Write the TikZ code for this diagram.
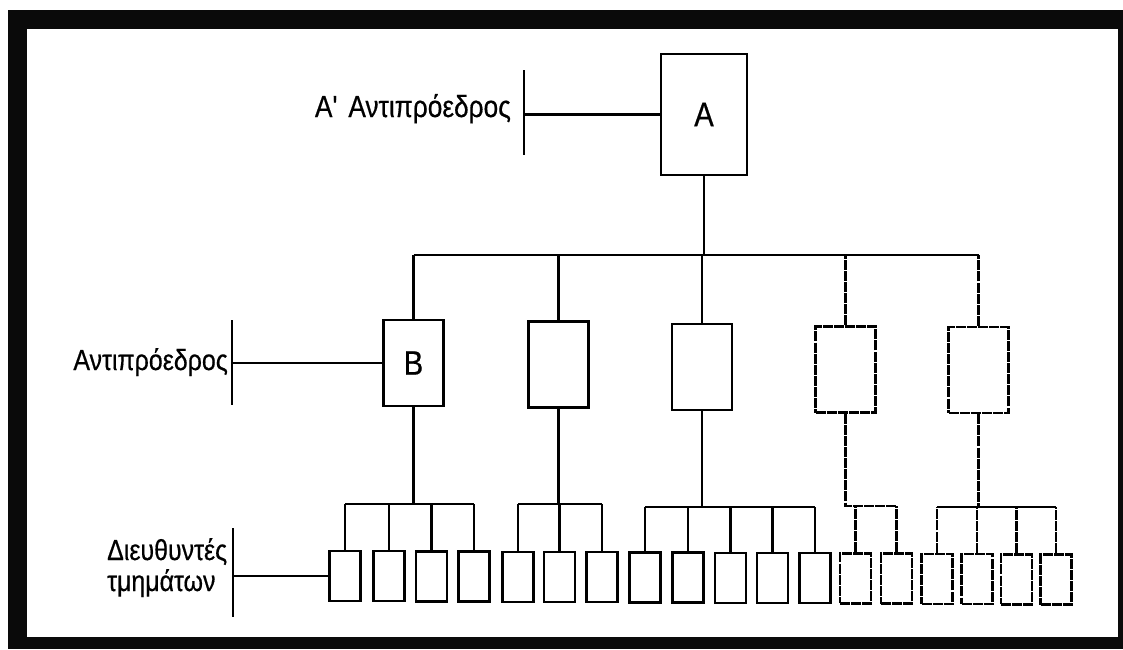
\documentclass[tikz,border=0pt]{standalone}
\usepackage{fontspec}
\setmainfont{Liberation Sans}
\newfontfamily\narrowsans[FakeStretch=0.86,FakeBold=0.5]{Liberation Sans}
\begin{document}
\begin{tikzpicture}[x=1pt,y=-1pt,
  ln/.style={line width=2.4pt},
  soft/.style={dash pattern=on 10pt off 1.1pt},
  topbox/.style={draw,line width=2.4pt,minimum width=86pt,minimum height=121pt,inner sep=0pt,font=\narrowsans\fontsize{34}{40}\selectfont},
  vpbox/.style={draw,line width=2.4pt,minimum width=60pt,minimum height=86pt,inner sep=0pt,font=\narrowsans\fontsize{34}{40}\selectfont},
  dbox/.style={draw,line width=2.4pt,minimum width=31pt,minimum height=50pt,inner sep=0pt},
  lbl/.style={font=\narrowsans\fontsize{29}{34}\selectfont,inner sep=0pt}]
% page and black frame
\useasboundingbox (0,0) rectangle (1123,649);
\fill[white] (0,0) rectangle (1123,649);
\fill[black!96] (8,10) rectangle (1123,649);
\fill[white] (27,29) rectangle (1118,637);

% president
\node[topbox] (A) at (704,114.5) {A};
\node[lbl,anchor=base east,font=\narrowsans\fontsize{30.5}{36}\selectfont] (labA) at (511,117) {A'\hspace{0.12em} Αντιπρόεδρος};
\coordinate (tickA1) at (524,70);
\coordinate (tickA2) at (524,155);
\draw[ln] (tickA1) -- (tickA2);
\draw[ln] (A.west) -- (A.west -| tickA1);

% vice presidents
\node[vpbox] (B1) at (413.5,363) {B};
\node[vpbox] (B2) at (558.5,364.5) {};
\node[vpbox] (B3) at (702,367) {};
\node[vpbox,soft] (B4) at (845.5,369.5) {};
\node[vpbox,soft] (B5) at (978.5,370) {};
\coordinate (busL) at (413.5,255);
\coordinate (busR) at (978.5,255);
\draw[ln] (A.south) -- (A.south |- busL);
\draw[ln] (busL) -- (busR);
\foreach \b in {B1,B2,B3} \draw[ln] (\b.north) -- (\b.north |- busL);
\foreach \b in {B4,B5} \draw[ln,soft] (\b.north) -- (\b.north |- busL);

\node[lbl,anchor=base east] (labB) at (228,370) {Αντιπρόεδρος};
\coordinate (tickB1) at (232,320);
\coordinate (tickB2) at (232,405);
\draw[ln] (tickB1) -- (tickB2);
\draw[ln] (B1.west) -- (B1.west -| tickB1);

% department heads
\foreach \x [count=\i] in {345,389,431.5,474,518,559.5,602,645,688,730.5,772.5,815,855.5,896.5,937,977,1016.5,1056}{
  \pgfmathsetmacro{\yy}{576+3.5*(\i-1)/17}
  \ifnum\i>12
    \node[dbox,soft] (d\i) at (\x,\yy) {};
  \else
    \node[dbox] (d\i) at (\x,\yy) {};
  \fi
}
\coordinate (g1) at (0,504);
\coordinate (g2) at (0,504);
\coordinate (g3) at (0,507);
\coordinate (g4) at (0,506);
\coordinate (g5) at (0,507);

\draw[ln] (B1.south) -- (B1.south |- g1);
\draw[ln] (d1.north |- g1) -- (d4.north |- g1);
\foreach \i in {1,...,4} \draw[ln] (d\i.north) -- (d\i.north |- g1);

\draw[ln] (B2.south) -- (B2.south |- g2);
\draw[ln] (d5.north |- g2) -- (d7.north |- g2);
\foreach \i in {5,...,7} \draw[ln] (d\i.north) -- (d\i.north |- g2);

\draw[ln] (B3.south) -- (B3.south |- g3);
\draw[ln] (d8.north |- g3) -- (d12.north |- g3);
\foreach \i in {8,...,12} \draw[ln] (d\i.north) -- (d\i.north |- g3);

\draw[ln,soft] (B4.south) -- (B4.south |- g4) -- (d14.north |- g4);
\foreach \i in {13,14} \draw[ln,soft] (d\i.north) -- (d\i.north |- g4);

\draw[ln,soft] (B5.south) -- (B5.south |- g5);
\draw[ln] (d15.north |- g5) -- (d18.north |- g5);
\foreach \i in {15,...,18} \draw[ln,soft] (d\i.north) -- (d\i.north |- g5);

\node[lbl,anchor=base west] (labD1) at (107,560) {Διευθυντές};
\node[lbl,anchor=base west] (labD2) at (107,591) {τμημάτων};
\coordinate (tickD1) at (233,528);
\coordinate (tickD2) at (233,617);
\draw[ln] (tickD1) -- (tickD2);
\draw[ln] (d1.west) -- (d1.west -| tickD1);
\end{tikzpicture}
\end{document}
